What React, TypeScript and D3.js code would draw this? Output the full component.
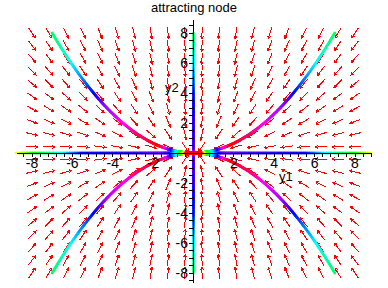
import React from 'react';
import * as d3 from 'd3';

const W = 388;
const H = 288;
const title = 'attracting node';
const xLabel = 'y1';
const yLabel = 'y2';
const xTickValues = [-8, -6, -4, -2, 2, 4, 6, 8];
const yTickValues = [-8, -6, -4, -2, 2, 4, 6, 8];
// direction-field grid (20 x 20 points over [-8, 8])
const gridCount = 20;
const gridMin = -8;
const gridMax = 8;
// system: y1' = -y1, y2' = -2*y2
const rateY1 = -1;
const rateY2 = -2;
// initial conditions of the solution curves
const initY1 = [7, -7, 7, -7, 0, 0, 8.8, -8.8];
const initY2 = [8, 8, -8, -8, 8, -8, 0, 0];
const curveFamily = [0, 0, 0, 0, 2, 2, 1, 1];
// hue (0..1, Maple HUE) along t for each family
const hueT0 = [0, 0.14, 0.35, 0.49, 0.69, 0.91, 1.39, 1.6, 1.85, 2.1, 2.45, 2.75, 3.05];
const hueV0 = [0.4, 0.5, 0.67, 0.78, 0.83, 0.92, 1.0, 0.85, 0.67, 0.5, 0.33, 0.17, 0.0];
const hueT1 = [0, 0.1, 0.3, 0.47, 1.75, 2.0, 2.3, 2.6, 2.9, 3.2];
const hueV1 = [0.17, 0.33, 0.5, 0.67, 0.74, 0.67, 0.5, 0.33, 0.17, 0.0];
const hueT2 = [0, 0.14, 0.35, 0.7, 2.0, 2.5, 3.0];
const hueV2 = [0.4, 0.5, 0.65, 0.7, 0.74, 0.85, 0.95];

const field = (a: number, b: number): [number, number] => [rateY1 * a, rateY2 * b];

export default function App() {
  const x = d3.scaleLinear().domain([-8, 8]).range([32, 355]);
  const y = d3.scaleLinear().domain([-8, 8]).range([273, 33]);
  const xExt = [-8.75, 8.85];
  const yExt = [-8.67, 8.87];
  const font = 'Liberation Sans, Arial, Helvetica, sans-serif';

  // arrows
  const grid = d3.range(gridCount).map((i) => gridMin + (i * (gridMax - gridMin)) / (gridCount - 1));
  const arrowLen = 11.5;
  const headLen = 3;
  const headAng = (30 * Math.PI) / 180;
  const arrows: string[] = [];
  grid.forEach((gx) => {
    grid.forEach((gy) => {
      const [f1, f2] = field(gx, gy);
      const px = x(gx), py = y(gy);
      const dxp = x(gx + f1) - px;
      const dyp = y(gy + f2) - py;
      const n = Math.hypot(dxp, dyp) || 1;
      const ux = dxp / n, uy = dyp / n;
      const x0 = px - (ux * arrowLen) / 2, y0 = py - (uy * arrowLen) / 2;
      const x1 = px + (ux * arrowLen) / 2, y1 = py + (uy * arrowLen) / 2;
      const ang = Math.atan2(-uy, -ux);
      const b1x = x1 + headLen * Math.cos(ang + headAng);
      const b1y = y1 + headLen * Math.sin(ang + headAng);
      const b2x = x1 + headLen * Math.cos(ang - headAng);
      const b2y = y1 + headLen * Math.sin(ang - headAng);
      arrows.push(`M${x0},${y0}L${x1},${y1}M${b1x},${b1y}L${x1},${y1}L${b2x},${b2y}`);
    });
  });

  // solution curves (numerical integration of the field)
  const hueScales = [
    d3.scaleLinear().domain(hueT0).range(hueV0).clamp(true),
    d3.scaleLinear().domain(hueT1).range(hueV1).clamp(true),
    d3.scaleLinear().domain(hueT2).range(hueV2).clamp(true),
  ];
  const segs: { d: string; c: string; w: number }[] = [];
  const dt = 0.01;
  initY1.forEach((a0, k) => {
    let a = a0, b = initY2[k], t = 0;
    const fam = curveFamily[k];
    const hs = hueScales[fam];
    while (t < 6) {
      const [f1, f2] = field(a, b);
      const [g1, g2] = field(a + (f1 * dt) / 2, b + (f2 * dt) / 2);
      const na = a + g1 * dt, nb = b + g2 * dt;
      const h = ((hs(t) % 1) + 1) % 1;
      const c = d3.hsl(h * 360, 1, 0.5).formatHex();
      segs.push({ d: `M${x(a)},${y(b)}L${x(na)},${y(nb)}`, c, w: fam === 0 ? 2.8 : 2.4 });
      a = na; b = nb; t += dt;
    }
  });

  const xMinor = d3.range(-21, 23).map((i) => i * 0.4).filter((v) => v >= xExt[0] && v <= xExt[1]);
  const yMinor = d3.range(-17, 18).map((i) => i * 0.5).filter((v) => v >= yExt[0] && v <= yExt[1]);
  const x0p = x(0), y0p = y(0);

  return (
    <svg width={W} height={H} style={{ position: 'absolute', left: 0, top: 0, background: '#fff' }}>
      <rect x={0} y={0} width={W} height={H} fill="#fff" />
      <text x={194} y={12} textAnchor="middle" fontFamily={font} fontSize={13} fill="#000">{title}</text>
      <path d={arrows.join('')} stroke="#ff0000" strokeWidth={1} fill="none" shapeRendering="crispEdges" />
      <g strokeLinecap="round" fill="none">
        {segs.map((s, i) => (
          <path key={i} d={s.d} stroke={s.c} strokeWidth={s.w} />
        ))}
      </g>
      {/* axes */}
      <g stroke="#000" strokeWidth={1} shapeRendering="crispEdges">
        <line x1={x(xExt[0])} x2={x(xExt[1])} y1={y0p} y2={y0p} />
        <line x1={x0p - 0.5} x2={x0p - 0.5} y1={y(yExt[0])} y2={y(yExt[1])} />
        {xMinor.map((v) => (
          <line key={'xt' + v} x1={x(v)} x2={x(v)} y1={y0p} y2={y0p + 4} />
        ))}
        {yMinor.map((v) => (
          <line key={'yt' + v} x1={x0p - 4.5} x2={x0p - 0.5} y1={y(v)} y2={y(v)} />
        ))}
      </g>
      <g fontFamily={font} fontSize={14} fill="#000">
        {xTickValues.map((v) => (
          <text key={'xl' + v} x={x(v)} y={168} textAnchor="middle">{v}</text>
        ))}
        {yTickValues.map((v) => (
          <text key={'yl' + v} x={188} y={y(v) + 5} textAnchor="end">{v}</text>
        ))}
      </g>
      <g fontFamily={font} fontSize={13} fill="#000">
        <text x={279} y={181}>{xLabel}</text>
        <text x={165} y={92}>{yLabel}</text>
      </g>
    </svg>
  );
}
